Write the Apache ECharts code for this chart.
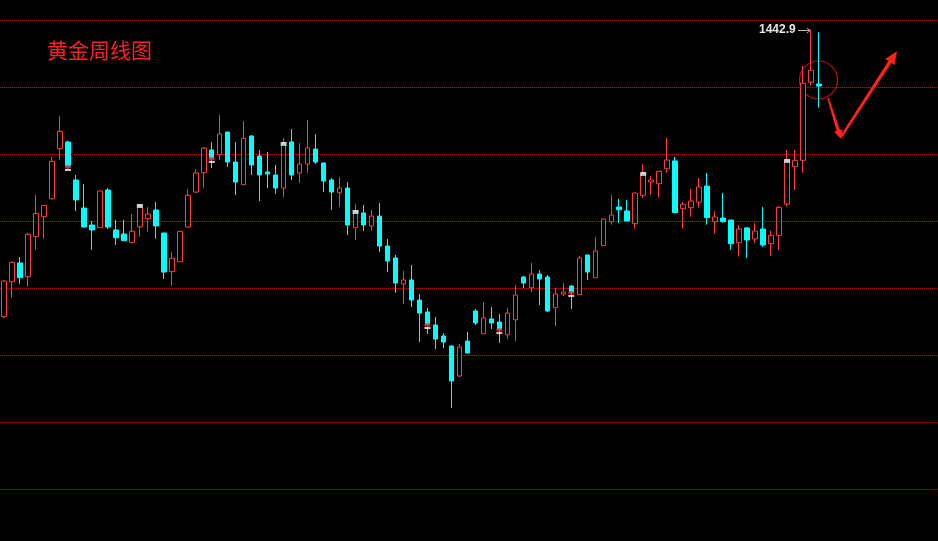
<!DOCTYPE html>
<html>
<head>
<meta charset="utf-8">
<script src="https://cdn.jsdelivr.net/npm/echarts@6/dist/echarts.min.js"></script>
<style>
html,body{margin:0;padding:0;background:#000;}
#c{width:938px;height:541px;}
</style>
</head>
<body>
<div id="c"></div>
<script>
// ---- data (weekly gold OHLC) ----
var titleText = '黄金周线图';
var categories = [];
for (var k = 1; k <= 103; k++) categories.push('W' + k);
var opens = [1228.6,1254.7,1268.7,1258.4,1288.3,1303.2,1316.6,1354.0,1359.0,1330.6,
1309.7,1297.0,1295.0,1323.1,1293.3,1290.3,1283.8,1295.7,1301.7,1308.2,
1291.0,1262.2,1269.6,1295.5,1321.6,1336.0,1353.0,1349.5,1366.4,1344.0,
1327.1,1363.4,1348.5,1336.6,1334.3,1324.6,1359.0,1335.8,1342.5,1353.7,
1343.3,1330.6,1321.1,1324.6,1295.0,1306.0,1296.3,1303.7,1281.3,1272.4,
1253.0,1256.0,1241.0,1232.1,1222.4,1214.2,1206.7,1184.3,1210.4,1232.8,
1215.9,1226.9,1224.6,1215.1,1226.3,1258.2,1250.2,1260.4,1258.2,1235.3,
1245.5,1251.5,1245.0,1274.6,1257.7,1281.6,1299.5,1310.4,1307.5,1298.0,
1319.2,1329.1,1327.8,1339.0,1344.8,1309.2,1309.9,1314.0,1326.1,1299.5,
1302.2,1300.7,1283.8,1294.8,1286.6,1294.0,1283.1,1289.3,1312.5,1340.5,
1345.3,1403.5,1402.2];
var closes = [1255.2,1269.2,1257.7,1290.1,1305.7,1311.7,1344.5,1366.9,1340.3,1315.7,
1295.5,1293.3,1322.4,1295.5,1287.5,1285.3,1292.3,1311.2,1305.2,1296.3,
1261.9,1272.2,1292.3,1319.2,1335.8,1354.3,1346.3,1364.9,1344.0,1329.1,
1361.7,1341.8,1334.3,1335.1,1324.6,1357.5,1334.3,1342.5,1354.5,1344.0,
1329.8,1321.6,1324.6,1297.0,1306.7,1297.0,1303.7,1281.3,1270.1,1253.7,
1256.0,1241.0,1231.3,1222.4,1211.9,1209.7,1180.6,1206.0,1201.5,1223.9,
1227.6,1223.9,1218.6,1231.3,1244.8,1253.7,1260.4,1256.7,1232.8,1245.5,
1247.0,1246.3,1272.4,1261.9,1277.6,1301.5,1304.5,1308.4,1300.0,1320.9,
1335.1,1330.6,1337.1,1345.5,1306.2,1312.5,1314.9,1325.4,1302.5,1303.0,
1299.5,1283.1,1294.0,1285.8,1292.5,1282.1,1289.3,1310.2,1344.8,1345.3,
1402.8,1412.5,1400.7];
var lows = [1227.4,1242.8,1253.2,1251.0,1278.6,1286.8,1316.0,1345.7,1338.8,1307.5,
1295.0,1278.4,1294.8,1294.0,1282.1,1285.0,1283.5,1288.3,1292.0,1286.8,
1256.7,1251.7,1269.4,1294.8,1320.9,1324.6,1339.5,1345.5,1340.3,1319.4,
1326.9,1334.3,1314.9,1324.6,1320.1,1317.9,1330.6,1328.4,1335.8,1342.5,
1321.6,1308.2,1310.4,1289.5,1285.8,1292.5,1292.5,1276.9,1261.9,1246.3,
1238.1,1235.8,1209.7,1215.7,1204.5,1205.2,1160.4,1183.6,1201.3,1222.4,
1215.7,1219.4,1209.0,1211.9,1210.4,1250.0,1247.0,1237.3,1232.1,1221.6,
1244.0,1234.3,1244.8,1256.0,1257.5,1281.3,1297.2,1298.5,1299.8,1294.3,
1317.2,1319.4,1317.4,1336.0,1306.0,1294.3,1303.2,1309.9,1297.2,1290.5,
1298.7,1278.6,1273.4,1272.4,1283.6,1280.6,1274.1,1278.4,1310.7,1323.1,
1336.0,1401.0,1384.6];
var highs = [1256.0,1269.9,1273.1,1291.3,1319.4,1311.7,1347.8,1378.4,1360.0,1334.3,
1327.6,1300.0,1322.6,1324.6,1300.7,1300.7,1305.2,1312.7,1310.4,1314.2,
1291.3,1276.9,1292.5,1323.9,1338.8,1355.2,1359.0,1379.1,1366.6,1359.0,
1374.6,1364.2,1353.0,1351.5,1341.8,1361.9,1368.7,1358.2,1375.4,1364.9,
1343.5,1332.1,1332.8,1329.1,1312.7,1311.9,1308.2,1313.4,1286.6,1274.6,
1262.7,1267.2,1245.5,1235.1,1228.3,1216.4,1207.5,1208.2,1217.2,1234.3,
1239.5,1235.8,1230.6,1235.1,1252.2,1259.0,1268.7,1263.4,1259.7,1250.0,
1253.7,1252.2,1273.9,1274.8,1288.1,1301.7,1319.4,1316.4,1315.7,1321.1,
1342.5,1333.6,1337.3,1361.9,1347.8,1314.2,1323.9,1332.1,1335.8,1307.5,
1320.9,1300.9,1297.0,1295.5,1298.5,1310.4,1292.8,1311.2,1353.0,1353.0,
1415.7,1442.9,1440.8];
var yTicks = [1100, 1150, 1200, 1250, 1300, 1350, 1400, 1450];
var highLabel = '1442.9';
var highIndex = 101;
// trade-marker weeks shown by the platform
var sellMarks = [8, 26, 53, 62, 71];
var buyMarks = [17, 35, 44, 80, 98];

var ohlc = [];
for (var i = 0; i < opens.length; i++) {
  ohlc.push([opens[i], closes[i], lows[i], highs[i]]);
}
var sellRed = sellMarks.map(function (j) { return [j, closes[j]]; });
var buyWhite = buyMarks.map(function (j) { return [j, closes[j]]; });

var chart = echarts.init(document.getElementById('c'), null, {renderer: 'canvas'});
chart.setOption({
  backgroundColor: '#000000',
  animation: false,
  title: {
    text: titleText, left: 47, top: 40, padding: 0,
    textStyle: {color: '#ff2020', fontSize: 21, fontWeight: 'normal', fontFamily: 'Noto Sans CJK SC'}
  },
  grid: [
    {left: -1, width: 824, top: 20, height: 469, containLabel: false},
    {left: 0, right: 0, top: 20, height: 469, containLabel: false}
  ],
  xAxis: [{
    type: 'category', data: categories, boundaryGap: true, gridIndex: 0,
    axisLine: {show: false}, axisTick: {show: false}, axisLabel: {show: false}, splitLine: {show: false}
  }, {
    type: 'value', gridIndex: 1, min: 0, max: 1, show: false
  }],
  yAxis: [{
    type: 'value', gridIndex: 0, min: yTicks[0], max: yTicks[yTicks.length - 1], interval: 50,
    axisLine: {show: false}, axisTick: {show: false}, axisLabel: {show: false}, splitLine: {show: false}
  }, {
    type: 'value', gridIndex: 1, min: yTicks[0], max: yTicks[yTicks.length - 1], interval: 50,
    axisLine: {show: false}, axisTick: {show: false}, axisLabel: {show: false},
    splitLine: {show: true, showMinLine: true, showMaxLine: true, lineStyle: {color: '#b00000', type: 'dotted', width: 1}}
  }],
  series: [{
    type: 'candlestick',
    xAxisIndex: 0, yAxisIndex: 0,
    data: ohlc,
    barWidth: 5,
    z: 3,
    itemStyle: {
      color: '#000000', color0: '#00ffff',
      borderColor: '#ff3c3c', borderColor0: '#00ffff', borderWidth: 1
    }
  }, {
    type: 'scatter', xAxisIndex: 0, yAxisIndex: 0, data: sellRed, z: 4, silent: true,
    symbol: 'rect', symbolSize: [6, 3], symbolOffset: [0, 0],
    itemStyle: {color: '#ff1010'}
  }, {
    type: 'scatter', xAxisIndex: 0, yAxisIndex: 0, data: sellRed, z: 4, silent: true,
    symbol: 'rect', symbolSize: [6, 2], symbolOffset: [0, 3],
    itemStyle: {color: '#ffffff'}
  }, {
    type: 'scatter', xAxisIndex: 0, yAxisIndex: 0, data: buyWhite, z: 4, silent: true,
    symbol: 'rect', symbolSize: [6, 2], symbolOffset: [0, -1],
    itemStyle: {color: '#ffffff'}
  }, {
    type: 'scatter', xAxisIndex: 0, yAxisIndex: 0, data: buyWhite, z: 4, silent: true,
    symbol: 'rect', symbolSize: [6, 2], symbolOffset: [0, 1],
    itemStyle: {color: '#bff'}
  }]
});

// annotations
var p = chart.convertToPixel({xAxisIndex: 0, yAxisIndex: 0}, [highIndex, highs[highIndex]]);
var last = chart.convertToPixel({xAxisIndex: 0, yAxisIndex: 0}, [102, closes[102]]);
var ax = Math.round(p[0]), ay = Math.round(p[1]) + 0.5;
chart.setOption({
  graphic: [
    {type: 'text', left: ax - 52, top: ay - 7, style: {text: highLabel, fill: '#e6e6e6', font: 'bold 12px "Liberation Sans", Arial, sans-serif'}},
    {type: 'line', shape: {x1: ax - 13, y1: ay, x2: ax - 1, y2: ay}, style: {stroke: '#bbbbbb', lineWidth: 1}},
    {type: 'polyline', shape: {points: [[ax - 4, ay - 2.5], [ax - 1, ay], [ax - 4, ay + 2.5]]}, style: {stroke: '#bbbbbb', lineWidth: 1, fill: null}},
    {type: 'circle', shape: {cx: last[0] - 0.5, cy: 80, r: 19}, style: {stroke: '#c01010', lineWidth: 1.2, fill: null}},
    {type: 'polygon', shape: {points: [[827.2, 98.2], [828.8, 97.8], [840.0, 129.9], [842.6, 129.0], [841, 139], [834.0, 131.8], [836.6, 130.9]]}, style: {fill: '#ff2020'}},
    {type: 'polygon', shape: {points: [[842.0, 137.7], [891.4, 62.9], [894.5, 64.9], [897, 51], [885.3, 58.9], [888.4, 60.9], [840.0, 136.3]]}, style: {fill: '#ff2020'}}
  ]
});
</script>
</body>
</html>
